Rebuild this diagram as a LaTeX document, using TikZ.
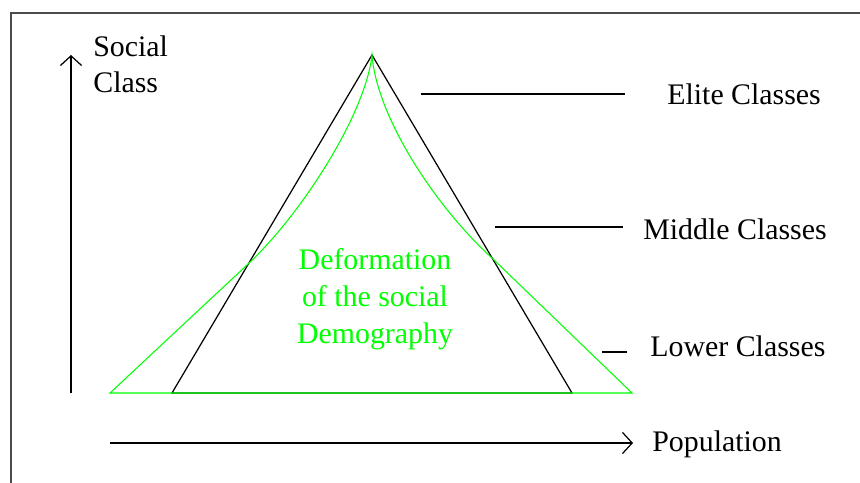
\documentclass[tikz,border=0pt]{standalone}
\usepackage{fontspec}
\setmainfont{Liberation Serif}
\newfontfamily\diagfont{Liberation Serif}
\usetikzlibrary{arrows.meta}

\begin{document}
\begin{tikzpicture}[
        x=0.02cm,
        y=-0.02cm,
        txt/.style={
            anchor=base west,
            inner sep=0pt,
            font=\diagfont\fontsize{17}{21}\selectfont
        },
        greentxt/.style={
            anchor=base,
            inner sep=0pt,
            align=center,
            text=pyrgreen,
            font=\diagfont\fontsize{17}{21}\selectfont
        },
        axis/.style={-{Straight Barb[length=5.5pt,width=12pt]}, line width=0.7pt},
        tick/.style={line width=0.9pt},
        pyr/.style={line width=0.7pt},
        deform/.style={line width=0.6pt, pyrgreen}
    ]
        \definecolor{pyrgreen}{RGB}{0,255,0}
        \useasboundingbox (0,0) rectangle (860,483);

        % frame (cut off at right and bottom)
        \draw[line width=1.2pt, black!70] (11,490) -- (11,13) -- (870,13);

        % axes
        \coordinate (yfrom) at (71,393);
        \coordinate (yto) at (71,55);
        \coordinate (xfrom) at (110,443);
        \coordinate (xto) at (633,443);
        \draw[axis] (yfrom) -- (yto);
        \draw[axis] (xfrom) -- (xto);
        \node[txt] (social) at (93,57) {Social};
        \node[txt] (class) at (93,93) {Class};
        \node[txt] (pop) at (652,452) {Population};

        % pyramid
        \coordinate (apex) at (372,55);
        \coordinate (bl) at (172,393);
        \coordinate (br) at (572,393);
        \draw[pyr] (bl) -- (apex) -- (br) -- cycle;

        % deformed pyramid
        \coordinate (gl) at (110,393);
        \coordinate (gr) at (632,393);
        \coordinate (cl) at (247,265);
        \coordinate (cr) at (492,258);
        \draw[deform] (gl) -- (cl) .. controls (303,213) and (366,112) .. (apex)
            .. controls (377,118) and (436,207) .. (cr) -- (gr) -- cycle;
        \node[greentxt] (deftxt) at (375,343) {Deformation\\of the social\\Demography};

        % class labels
        \node[txt] (elite) at (667,105) {Elite Classes};
        \node[txt] (middle) at (643,240) {Middle Classes};
        \node[txt] (lower) at (650,357) {Lower Classes};
        \coordinate (e1) at (421,94);
        \coordinate (m1) at (495,227);
        \coordinate (l1) at (602,352);
        \draw[tick] (e1) -- (e1 -| 625,0);
        \draw[tick] (m1) -- (m1 -| 623,0);
        \draw[tick] (l1) -- (l1 -| 627,0);

    \end{tikzpicture}
\end{document}
